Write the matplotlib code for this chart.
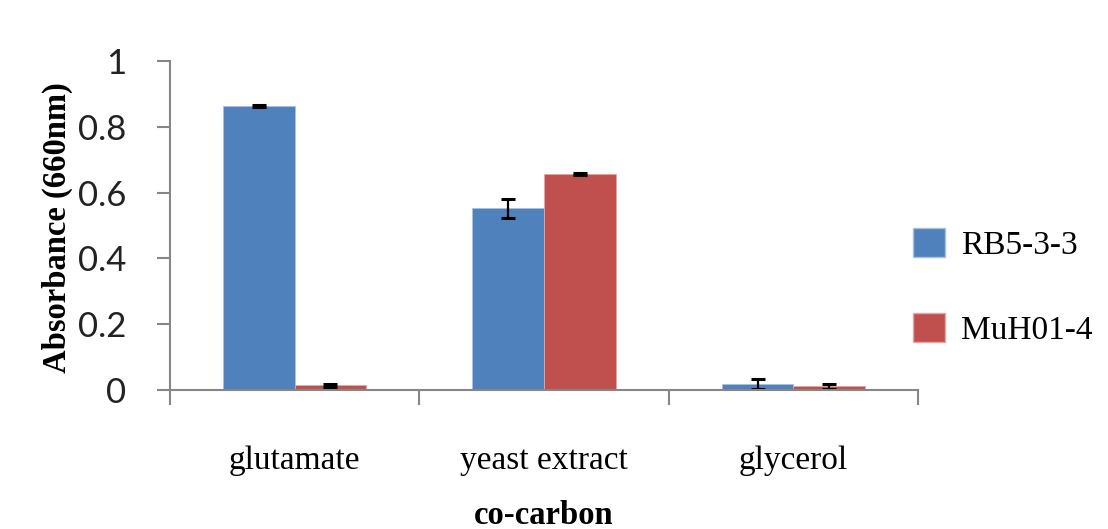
import matplotlib
matplotlib.use("Agg")
import matplotlib.pyplot as plt
import numpy as np
from matplotlib.patches import Patch

categories = ["glutamate", "yeast extract", "glycerol"]
series_names = ["RB5-3-3", "MuH01-4"]
rb_values = [0.864, 0.552, 0.017]
rb_errors = [0.003, 0.028, 0.015]
mu_values = [0.014, 0.656, 0.011]
mu_errors = [0.005, 0.003, 0.008]
colors = ["#4F81BD", "#C0504D"]
yticks = [0, 0.2, 0.4, 0.6, 0.8, 1]
ytick_labels = ["0", "0.2", "0.4", "0.6", "0.8", "1"]

W, H = 1108, 529
fig = plt.figure(figsize=(W / 100, H / 100), dpi=100)
ax = fig.add_axes([170 / W, 1 - 390 / H, (918 - 170) / W, (390 - 61) / H])

x = np.arange(len(categories))
bw = 0.287
err_kw = dict(ecolor="black", elinewidth=1.6, capsize=5, capthick=2.2)
ax.bar(x - bw / 2, rb_values, bw, color=colors[0], edgecolor="#A9C1E0", linewidth=0.6,
       yerr=rb_errors, error_kw=err_kw, zorder=2)
ax.bar(x + bw / 2, mu_values, bw, color=colors[1], edgecolor="#E0A9A7", linewidth=0.6,
       yerr=mu_errors, error_kw=err_kw, zorder=2)

ax.set_xlim(-0.5, len(categories) - 0.5)
ax.set_ylim(0, 1)

axis_col = "#868686"
for s in ["top", "right"]:
    ax.spines[s].set_visible(False)
for s in ["left", "bottom"]:
    ax.spines[s].set_color(axis_col)
    ax.spines[s].set_linewidth(1.5)
    ax.spines[s].set_zorder(3)

ax.set_yticks(yticks)
ax.set_yticklabels(ytick_labels, fontfamily="Lato", fontweight="normal", fontsize=25,
                   color="#222222")
ax.tick_params(axis="y", direction="out", length=9.5, width=1.5, color=axis_col, pad=22)

ax.set_xticks(np.arange(len(categories) + 1) - 0.5)
ax.set_xticklabels([])
ax.tick_params(axis="x", which="major", direction="out", length=11, width=1.5, color=axis_col)
ax.set_xticks(x, minor=True)
ax.set_xticklabels(categories, minor=True, fontfamily="Liberation Serif", fontsize=24)
ax.tick_params(axis="x", which="minor", length=0, pad=40)

fig.text(57 / W, 1 - 228 / H, "Absorbance (660nm)", rotation=90, ha="center", va="center",
         fontfamily="Liberation Serif", fontweight="bold", fontsize=23.5)
fig.text(544 / W, 1 - 515 / H, "co-carbon", ha="center", va="center",
         fontfamily="Liberation Serif", fontweight="bold", fontsize=23.5)

handles = [Patch(facecolor=colors[0], edgecolor="#A9C1E0"), Patch(facecolor=colors[1], edgecolor="#E0A9A7")]
fig.legend(handles, series_names, loc="center left", bbox_to_anchor=(883 / W, 1 - 287 / H),
           frameon=False, prop={"family": "Liberation Serif", "size": 24},
           handlelength=0.95, handleheight=0.95, handletextpad=0.5, labelspacing=1.55)

fig.savefig("out.png", dpi=100)
